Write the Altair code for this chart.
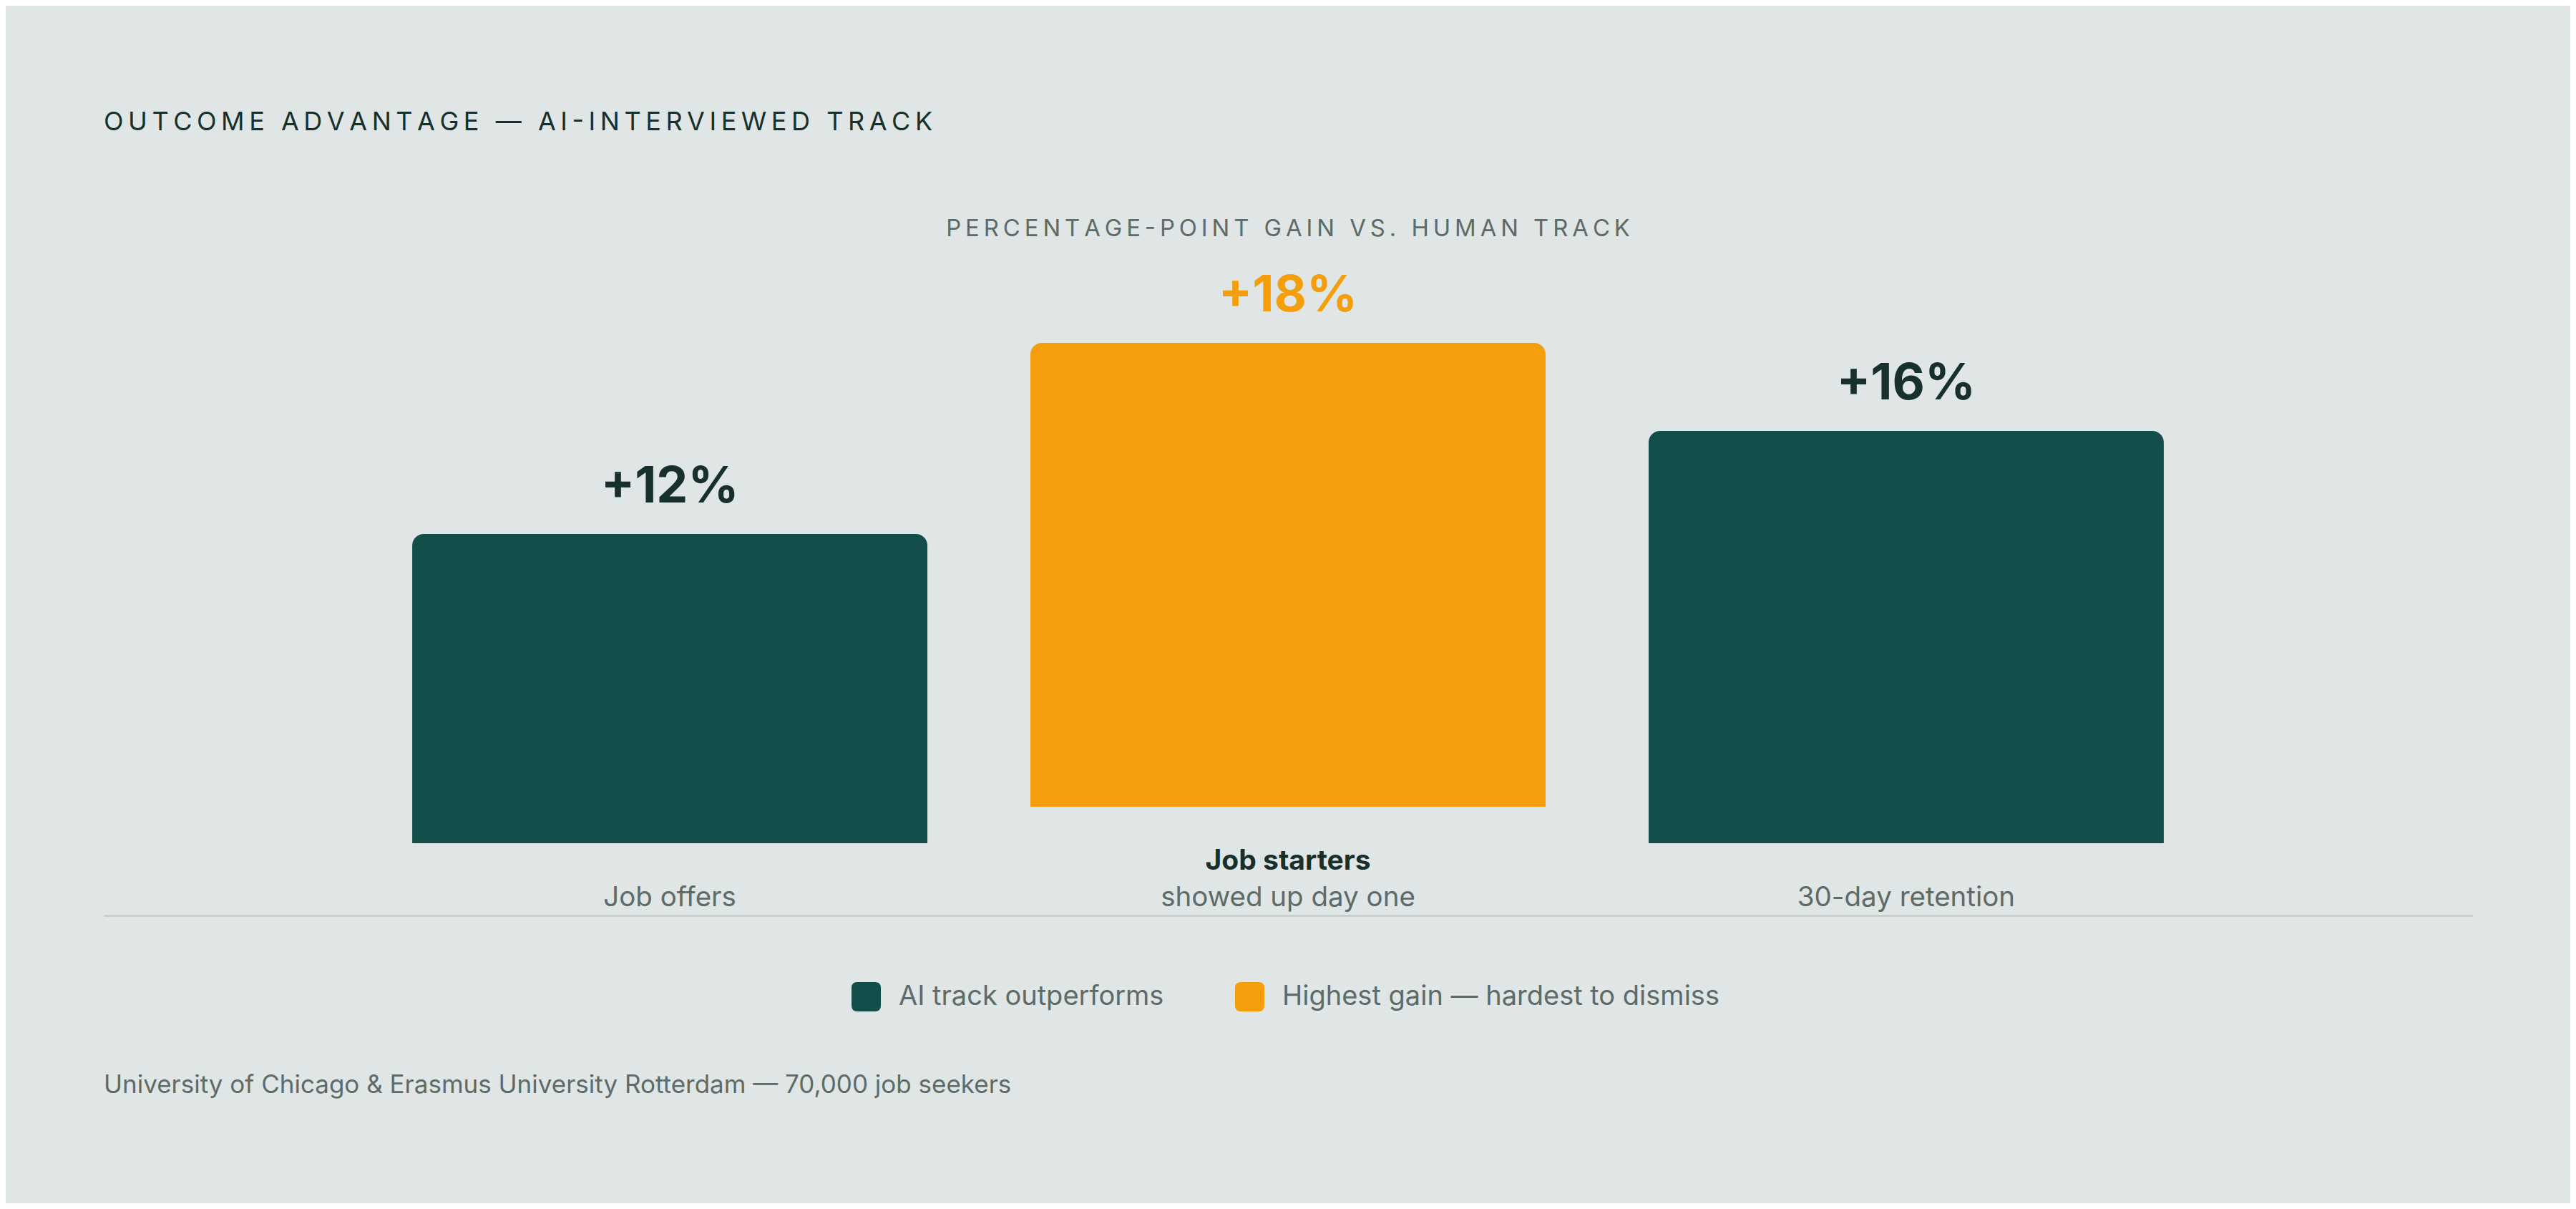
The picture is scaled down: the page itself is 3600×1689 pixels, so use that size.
import altair as alt
import pandas as pd

# ---- data ----
categories = ["Job offers", "Job starters", "30-day retention"]
headlines = ["", "Job starters", ""]
sublabels = ["Job offers", "showed up day one", "30-day retention"]
gains = [12, 18, 16]
value_labels = ["+12%", "+18%", "+16%"]
groups = ["AI track outperforms", "Highest gain — hardest to dismiss", "AI track outperforms"]
highlight = [False, True, False]
legend_order = ["AI track outperforms", "Highest gain — hardest to dismiss"]

title_text = "OUTCOME ADVANTAGE — AI-INTERVIEWED TRACK"
subtitle_text = "PERCENTAGE-POINT GAIN VS. HUMAN TRACK"
footer_text = "University of Chicago & Erasmus University Rotterdam — 70,000 job seekers"

# ---- style ----
BG = "#dfe6e5"
GREEN = "#134e4a"
ORANGE = "#f59e0b"
DARK = "#17302c"
GRAY = "#5e6b68"
LINE = "#c3cbca"
FONT = "Inter"


def spaced(s):
    return "\u2009".join(s)


df = pd.DataFrame({
    "category": categories,
    "headline": headlines,
    "sublabel": sublabels,
    "gain": gains,
    "label": value_labels,
    "group": groups,
    "highlight": highlight,
})

W, H = 3310, 648
LIFT = 51

x_enc = alt.X(
    "category:N", sort=categories,
    scale=alt.Scale(paddingInner=1 / 6, paddingOuter=0.499),
    axis=alt.Axis(orient="bottom", offset=101, domain=True, domainColor=LINE,
                  domainWidth=2.5, ticks=False, labels=False, title=None, grid=False),
)
y_enc = alt.Y("gain:Q", stack=None,
              scale=alt.Scale(domain=[0, 18], nice=False, zero=True), axis=None)

rounded = ("M -0.6,-1 L 0.6,-1 Q 1,-1 1,-0.6 L 1,0.6 Q 1,1 0.6,1 L -0.6,1 "
           "Q -1,1 -1,0.6 L -1,-0.6 Q -1,-1 -0.6,-1 Z")

color_enc = alt.Color(
    "group:N",
    scale=alt.Scale(domain=legend_order, range=[GREEN, ORANGE]),
    legend=alt.Legend(
        orient="none", legendX=1045, legendY=842, direction="horizontal",
        title=None, symbolType=rounded, symbolSize=1681, symbolStrokeWidth=0,
        symbolOpacity=1, labelFontSize=38, labelColor=GRAY, labelFont=FONT,
        labelOffset=25, columnPadding=99, padding=0, labelLimit=2000,
    ),
)

base = alt.Chart(df)

bars = base.transform_filter("!datum.highlight").mark_bar(
    cornerRadiusTopLeft=16, cornerRadiusTopRight=16
).encode(x=x_enc, y=y_enc, color=color_enc)

hbar = base.transform_filter("datum.highlight").mark_bar(
    cornerRadiusTopLeft=16, cornerRadiusTopRight=16, yOffset=-LIFT, y2Offset=-LIFT
).encode(x=x_enc, y=y_enc, y2=alt.Y2Datum(0), color=color_enc)

vals = base.transform_filter("!datum.highlight").mark_text(
    dy=-44, baseline="alphabetic", fontSize=70, fontWeight="bold", font=FONT, color=DARK
).encode(x=x_enc, y=y_enc, text="label:N")

hvals = base.transform_filter("datum.highlight").mark_text(
    dy=-44 - LIFT, baseline="alphabetic", fontSize=70, fontWeight="bold", font=FONT, color=ORANGE
).encode(x=x_enc, y=y_enc, text="label:N")

heads = base.mark_text(
    baseline="alphabetic", fontSize=39, fontWeight="bold", font=FONT, color=DARK
).encode(x=x_enc, y=alt.value(685), text="headline:N")

subs = base.mark_text(
    baseline="alphabetic", fontSize=38.5, font=FONT, color=GRAY
).encode(x=x_enc, y=alt.value(736), text="sublabel:N")

title = alt.Chart(pd.DataFrame({"t": [spaced(title_text)]})).mark_text(
    align="left", baseline="alphabetic", fontSize=36, font=FONT, color=DARK
).encode(x=alt.value(0), y=alt.value(-348), text="t:N")

subtitle = alt.Chart(pd.DataFrame({"t": [spaced(subtitle_text)]})).mark_text(
    align="center", baseline="alphabetic", fontSize=32.8, font=FONT, color=GRAY
).encode(x=alt.value(W / 2), y=alt.value(-200), text="t:N")

footer = alt.Chart(pd.DataFrame({"t": [footer_text]})).mark_text(
    align="left", baseline="alphabetic", fontSize=35, font=FONT, color=GRAY
).encode(x=alt.value(0), y=alt.value(997), text="t:N")

chart = alt.layer(
    bars, hbar, vals, hvals, heads, subs, title, subtitle, footer
).properties(
    width=W, height=H,
    padding={"left": 137, "top": 522, "right": 137, "bottom": 503},
    autosize=alt.AutoSizeParams(type="none"),
).configure(background=BG).configure_view(stroke=None)

chart.save("out.html", embed_options={"renderer": "svg", "actions": False})
